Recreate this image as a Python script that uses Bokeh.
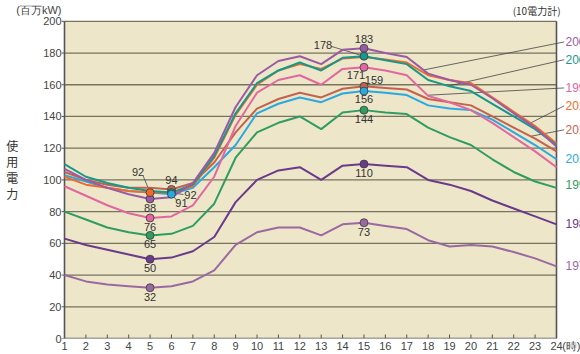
import numpy as np
from bokeh.plotting import figure
from bokeh.models import Range1d, FixedTicker, ColumnDataSource
from bokeh.core.properties import value
from bokeh.embed import file_html
from bokeh.resources import INLINE

# ---------------- data ----------------
hours = list(range(1, 25))
y_ticks = list(range(0, 201, 20))
y_unit = "(百万kW)"
x_unit = "(時)"
scope_note = "(10電力計)"
y_title = "使\n用\n電\n力"

years = ["2001年", "2007年", "1995年", "2010年", "2015年", "2018年", "1990年", "1985年", "1975年"]

load_2001 = [107, 100, 95, 91, 88, 89, 98, 117, 146, 166, 175, 178, 173, 182, 183, 180, 177.5, 167, 163, 160, 151.5, 142, 133, 121]
load_2007 = [110, 102, 98, 95, 93, 92, 97, 115, 142, 161, 169, 174, 169, 177, 178, 175.5, 173, 163, 159, 156, 148, 140, 132, 122]
load_1995 = [96, 90, 84, 79, 76, 77, 84, 102, 134, 155, 163, 166, 160, 170, 171, 169, 166, 153, 149, 144, 136, 127, 118, 108]
load_2010 = [102, 97, 95, 93, 92, 92, 96, 114, 141, 160, 169, 173, 170, 176.5, 177.5, 176, 174, 166, 163, 161, 152, 143, 134, 123]
load_2015 = [105, 100, 97, 95, 95, 94, 98, 111, 130, 145, 151, 155, 152, 157.5, 159, 158, 157, 151, 149, 147, 140, 133, 126, 118]
load_2018 = [103, 99, 95, 93, 92, 91, 95, 108, 122, 142, 148, 152, 149, 154.5, 156, 155, 153.5, 147, 145, 144, 138, 130, 122, 113]
load_1990 = [80, 75, 70, 67, 65, 66, 71, 85, 114, 130, 136, 140, 132, 142.5, 144, 142.5, 141.5, 133, 127, 122, 113, 105, 99, 95]
load_1985 = [63, 59, 56, 53, 50, 51, 55, 64, 86, 100, 106, 108, 100, 109, 110, 109, 108, 100, 97, 93, 87, 82, 77, 72]
load_1975 = [40, 36, 34, 33, 32, 33, 36, 43, 59, 67, 70, 70, 65, 72, 73, 71, 69, 62, 58, 59, 58, 54.5, 50.5, 45.5]

series = [load_2001, load_2007, load_1995, load_2010, load_2015, load_2018, load_1990, load_1985, load_1975]

# ---------------- styles / layout ----------------
colors = ["#9a5aa6", "#16998b", "#e2679f", "#f06a2b", "#c2634f", "#29a9e0", "#2f9d62", "#6a3a8c", "#9a69a2"]
BG = "#EDE6C9"
GRID = "#77735f"
EDGE = "#555555"
FONT = "Liberation Sans"
JFONT = "Noto Sans CJK JP"

W, H = 580, 354
LEFT, BOTTOM = 61, 13
TICK_PX = 3                 # y tick marks drawn just left of the plot box
TOP_PX = 21                 # white strip above the 200 line
PXH = 492 / 23.0            # pixels per hour
PYU = 320 / 200.0           # pixels per unit
x_start = 1 - TICK_PX / PXH
x_end = x_start + (W - LEFT) / PXH
y_end = 200 + TOP_PX / PYU
unit_y = 200 + 11 / PYU     # where the top notes sit
unit_x_hour = 24.9          # where the hour unit sits
tick_len = 4 / PYU

# right-hand year labels (y position in data units) and leader start hours
right_label_y = [187, 175.8, 158, 146.7, 131.6, 112.9, 96.5, 72.2, 45.6]
leader_hour = [17.78, 18.95, 17.97, 22.79, 22.79, None, None, None, None]
right_label_x = 24.42

# marked points: (series index, hour, dx px, dy px (down +))
marks = [
    (0, 15, 0, -9),
    (1, 15, -41, -11),
    (2, 15, -8, 8),
    (4, 15, 10, -6),
    (5, 15, 0, 8),
    (6, 15, 0, 9),
    (7, 15, 0, 9),
    (8, 15, 0, 9),
    (0, 5, 0, 9),
    (3, 5, -12, -21),
    (4, 6, 0, -9),
    (1, 6, 19, 2),
    (5, 6, 10, 9),
    (2, 5, 0, 9),
    (6, 5, 0, 9),
    (7, 5, 0, 9),
    (8, 5, 0, 9),
]
# leaders for some marked labels: (series index, hour, dx px, dy px)
mark_leaders = [
    (1, 15, -33, -10),
    (3, 5, -7, -17),
    (1, 6, 12, 2),
    (5, 6, 6, 7),
]

p = figure(width=W, height=H, output_backend="svg", toolbar_location=None,
           x_range=Range1d(x_start, x_end), y_range=Range1d(0, y_end),
           min_border_left=LEFT, min_border_top=0, min_border_bottom=BOTTOM,
           min_border_right=0, background_fill_color="white",
           border_fill_color="white", outline_line_color=None)
p.xgrid.visible = False
p.ygrid.visible = False

# plot area
p.quad(left=[1], right=[24], bottom=[0], top=[200], fill_color=BG, line_color=None)
gy = [v for v in y_ticks if 0 < v <= 200]
p.segment(x0=[1] * len(gy), x1=[24] * len(gy), y0=gy, y1=gy,
          line_color=GRID, line_width=1.3)
p.segment(x0=[24, 1, 1], x1=[24, 24, 1], y0=[0, 0, 0], y1=[200, 0, 200],
          line_color=EDGE, line_width=1.6)
# hour tick marks (pointing up into the plot)
p.segment(x0=hours, x1=hours, y0=[0] * 24, y1=[tick_len] * 24,
          line_color=EDGE, line_width=1)
# value tick marks (pointing left out of the box)
p.segment(x0=[x_start] * len(y_ticks), x1=[1] * len(y_ticks), y0=y_ticks, y1=y_ticks,
          line_color=EDGE, line_width=1)

# leaders to right-hand labels
for i, hs in enumerate(leader_hour):
    if hs is None:
        continue
    ys = float(np.interp(hs, hours, series[i]))
    p.segment(x0=[hs], y0=[ys], x1=[right_label_x - 0.06], y1=[right_label_y[i]],
              line_color="#444444", line_width=0.8)

# mark leaders
for (si, h, dx, dy) in mark_leaders:
    v = series[si][h - 1]
    p.segment(x0=[h], y0=[v], x1=[h + dx / PXH], y1=[v - dy / PYU],
              line_color="#444444", line_width=0.8)

# series lines (bottom series drawn first)
for i in reversed(range(len(series))):
    p.line(hours, series[i], line_color=colors[i], line_width=2)

# right labels
p.text(x=[right_label_x] * len(years), y=right_label_y, text=years,
       text_color=colors, text_font=value(FONT), text_font_size="12px",
       text_baseline="middle", text_align="left")

# top-right note
p.text(x=[23.07], y=[unit_y], text=[scope_note], text_font=value(JFONT),
       text_font_size="10px", text_color="#333333", text_align="center",
       text_baseline="middle")

# markers + value labels
mx, my, mc, lt, lx, ly = [], [], [], [], [], []
for (si, h, dx, dy) in marks:
    v = series[si][h - 1]
    mx.append(h); my.append(v); mc.append(colors[si])
    lt.append(str(int(round(v)))); lx.append(dx); ly.append(dy)
p.scatter(mx, my, size=8, fill_color=mc, line_color="#3a3a3a", line_width=0.8)
src = ColumnDataSource(dict(x=mx, y=my, t=lt, dx=lx, dy=ly))
p.text(x="x", y="y", text="t", x_offset="dx", y_offset="dy", source=src,
       text_align="center", text_baseline="middle", text_font=value(FONT),
       text_font_size="11px", text_color="#333333")

# axes
p.yaxis.ticker = FixedTicker(ticks=y_ticks + [unit_y], minor_ticks=[])
p.yaxis.major_label_overrides = {unit_y: y_unit}
p.yaxis.axis_line_color = None
p.yaxis.major_tick_out = 0
p.yaxis.major_tick_in = 0
p.yaxis.minor_tick_out = 0
p.yaxis.major_label_standoff = 0
p.yaxis.major_label_text_font = FONT
p.yaxis.major_label_text_font_size = "11px"
p.yaxis.major_label_text_color = "#444444"
p.yaxis.axis_label = y_title
p.yaxis.axis_label_orientation = "horizontal"
p.yaxis.axis_label_text_font = JFONT
p.yaxis.axis_label_text_font_style = "normal"
p.yaxis.axis_label_text_font_size = "12px"
p.yaxis.axis_label_text_line_height = 0.95
p.yaxis.axis_label_text_color = "#333333"
p.yaxis.axis_label_standoff = -5

p.xaxis.ticker = FixedTicker(ticks=hours + [unit_x_hour], minor_ticks=[])
p.xaxis.major_label_overrides = {unit_x_hour: x_unit}
p.xaxis.axis_line_color = None
p.xaxis.major_tick_out = 0
p.xaxis.major_tick_in = 0
p.xaxis.minor_tick_out = 0
p.xaxis.major_label_standoff = 1
p.xaxis.major_label_text_font = FONT
p.xaxis.major_label_text_font_size = "11px"
p.xaxis.major_label_text_color = "#444444"

open("out.html", "w").write(file_html(p, INLINE))
